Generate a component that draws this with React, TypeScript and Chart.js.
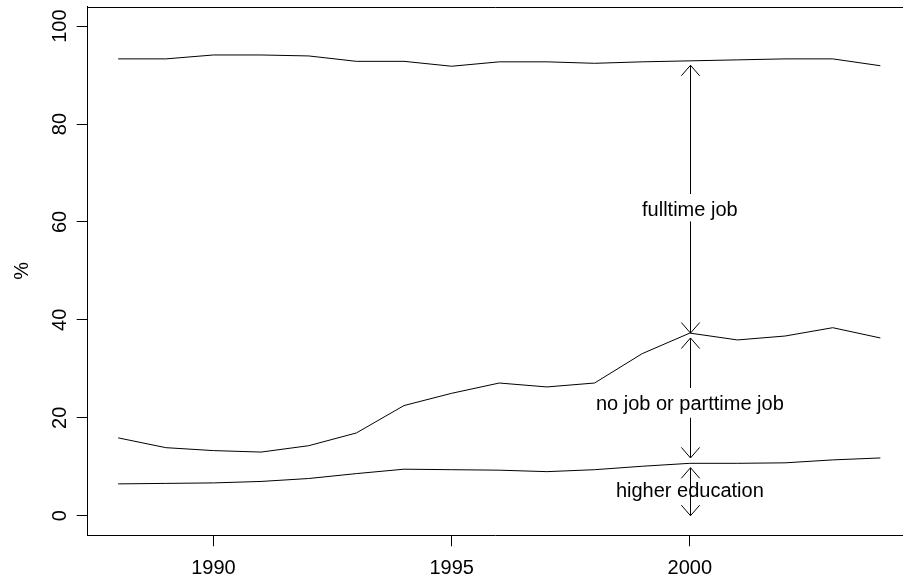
import React, { useEffect, useRef } from "react";
import { Chart, registerables } from "chart.js";

Chart.register(...registerables);

const years = [1988, 1989, 1990, 1991, 1992, 1993, 1994, 1995, 1996, 1997, 1998, 1999, 2000, 2001, 2002, 2003, 2004];
const upperLine = [93.3, 93.3, 94.1, 94.1, 93.9, 92.8, 92.8, 91.8, 92.7, 92.7, 92.4, 92.7, 92.9, 93.1, 93.3, 93.3, 91.9];
const middleLine = [15.9, 13.9, 13.3, 13.0, 14.3, 16.9, 22.5, 25.0, 27.1, 26.3, 27.1, 33.1, 37.3, 35.9, 36.7, 38.4, 36.3];
const lowerLine = [6.5, 6.6, 6.7, 7.0, 7.6, 8.6, 9.5, 9.4, 9.3, 9.0, 9.4, 10.1, 10.7, 10.7, 10.8, 11.4, 11.8];

const xTicks = [1990, 1995, 2000];
const yTicks = [0, 20, 40, 60, 80, 100];

const labelX = 2000;
const labelTexts = ["fulltime job", "no job or parttime job", "higher education"];
const labelY = [62.4, 22.7, 4.9];

const arrowX = 2000;
const arrowFrom = [65.7, 60.1, 26.1, 20.0, 5.3, 5.3];
const arrowTo = [92.0, 37.3, 36.3, 11.8, 9.8, 0];

const FONT = "'Liberation Sans', Arial, Helvetica, sans-serif";
const FS = 20;

const annotationPlugin = {
  id: "annotations",
  afterDatasetsDraw(chart: any) {
    const { ctx, chartArea, scales } = chart;
    const xs = scales.x;
    const ys = scales.y;
    ctx.save();
    ctx.strokeStyle = "#000";
    ctx.lineWidth = 1;
    ctx.beginPath();
    const ty = Math.round(chartArea.top) + 0.5;
    ctx.moveTo(chartArea.left, ty);
    ctx.lineTo(chartArea.right, ty);
    ctx.stroke();

    const L = 14;
    const ang = (41 * Math.PI) / 180;
    for (let i = 0; i < arrowFrom.length; i++) {
      const px = Math.round(xs.getPixelForValue(arrowX)) + 0.5;
      const y0 = ys.getPixelForValue(arrowFrom[i]);
      const y1 = ys.getPixelForValue(arrowTo[i]);
      ctx.beginPath();
      ctx.moveTo(px, y0);
      ctx.lineTo(px, y1);
      ctx.stroke();
      const dy = y1 > y0 ? 1 : -1;
      const back = Math.atan2(-dy, 0);
      ctx.beginPath();
      ctx.moveTo(px + L * Math.cos(back + ang), y1 + L * Math.sin(back + ang));
      ctx.lineTo(px, y1);
      ctx.lineTo(px + L * Math.cos(back - ang), y1 + L * Math.sin(back - ang));
      ctx.stroke();
    }

    ctx.fillStyle = "#000";
    ctx.font = `${FS}px ${FONT}`;
    ctx.textAlign = "center";
    ctx.textBaseline = "middle";
    for (let i = 0; i < labelTexts.length; i++) {
      ctx.fillText(labelTexts[i], xs.getPixelForValue(labelX), ys.getPixelForValue(labelY[i]));
    }
    ctx.restore();
  },
};

export default function App() {
  const ref = useRef<HTMLCanvasElement>(null);
  useEffect(() => {
    if (!ref.current) return;
    const mk = (arr: number[]) => years.map((x, i) => ({ x, y: arr[i] }));
    const ds = (arr: number[]) => ({
      data: mk(arr),
      borderColor: "#000",
      borderWidth: 1,
      pointRadius: 0,
      tension: 0,
      fill: false,
    });
    const chart = new Chart(ref.current, {
      type: "line",
      data: { datasets: [ds(upperLine), ds(middleLine), ds(lowerLine)] },
      options: {
        animation: false,
        responsive: false,
        devicePixelRatio: 1,
        layout: { padding: { top: 6.5, right: 0, bottom: 0, left: 0 } },
        plugins: { legend: { display: false }, tooltip: { enabled: false } },
        scales: {
          x: {
            type: "linear",
            min: 1987.36,
            max: 2004.475,
            afterBuildTicks: (s: any) => {
              s.ticks = xTicks.map((v) => ({ value: v }));
            },
            afterFit: (s: any) => {
              s.height = 49.7;
              s.paddingLeft = 0;
              s.paddingRight = 0;
            },
            grid: { display: true, drawOnChartArea: false, drawTicks: true, tickLength: 11, color: "#000", lineWidth: 1 },
            border: { display: true, color: "#000", width: 1 },
            ticks: {
              color: "#000",
              font: { family: FONT, size: FS },
              padding: 10,
              maxRotation: 0,
              callback: (v: any) => String(v),
            },
          },
          y: {
            type: "linear",
            min: -4,
            max: 104,
            afterBuildTicks: (s: any) => {
              s.ticks = yTicks.map((v) => ({ value: v }));
            },
            afterFit: (s: any) => {
              s.width = 87.7;
              s.paddingTop = 0;
              s.paddingBottom = 0;
            },
            grid: { display: true, drawOnChartArea: false, drawTicks: true, tickLength: 11, color: "#000", lineWidth: 1 },
            border: { display: true, color: "#000", width: 1 },
            title: { display: true, text: "%", color: "#000", font: { family: FONT, size: FS }, padding: { top: 10, bottom: 0 } },
            ticks: {
              color: "#000",
              font: { family: FONT, size: FS },
              padding: 0,
              minRotation: 90,
              maxRotation: 90,
              crossAlign: "center",
              callback: (v: any) => String(v),
            },
          },
        },
      },
      plugins: [annotationPlugin],
    } as any);
    return () => chart.destroy();
  }, []);
  return (
    <div style={{ position: "fixed", left: 0, top: 0, width: 903, height: 585, background: "#fff" }}>
      <canvas ref={ref} width={903} height={585} style={{ width: 903, height: 585 }} />
    </div>
  );
}
